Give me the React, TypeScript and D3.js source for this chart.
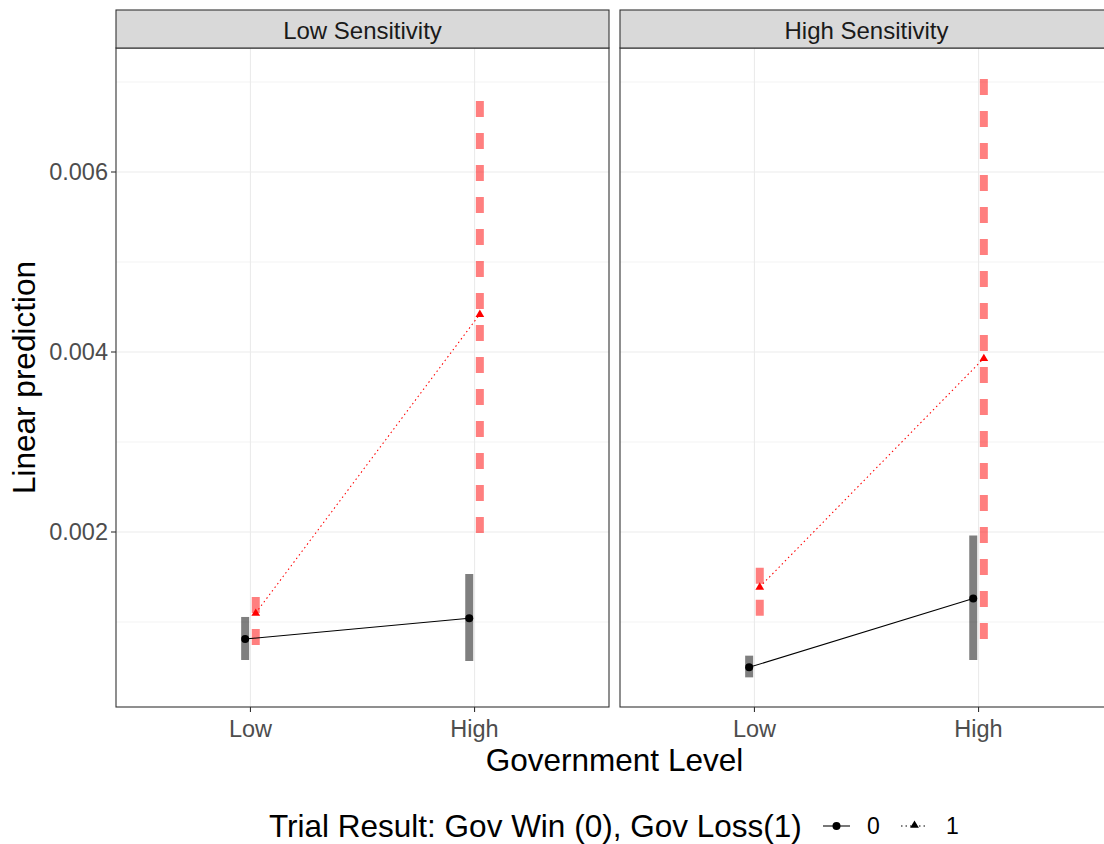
import React from "react";
import * as d3 from "d3";

const facets = ["Low Sensitivity", "High Sensitivity"];
const levels = ["Low", "High"];
const groups = ["0", "1"];
// values per facet: [group][level]
const estLow0 = [0.000811, 0.001041];
const loLow0 = [0.000578, 0.000567];
const hiLow0 = [0.001056, 0.001533];
const estLow1 = [0.0011, 0.00442];
const loLow1 = [0.000744, 0.00199];
const hiLow1 = [0.00128, 0.00682];
const estHigh0 = [0.000496, 0.00126];
const loHigh0 = [0.000385, 0.000578];
const hiHigh0 = [0.000626, 0.00196];
const estHigh1 = [0.00139, 0.00393];
const loHigh1 = [0.00107, 0.00081];
const hiHigh1 = [0.00161, 0.00706];
const yTicks = [0.002, 0.004, 0.006];
const yMinor = [0.001, 0.003, 0.005, 0.007];

const facetData = [
  { est: [estLow0, estLow1], lo: [loLow0, loLow1], hi: [hiLow0, hiLow1] },
  { est: [estHigh0, estHigh1], lo: [loHigh0, loHigh1], hi: [hiHigh0, hiHigh1] },
];

const FONT = "'Liberation Sans', Arial, sans-serif";

export default function App() {
  const W = 1104, H = 844;
  const panelTop = 48, panelBottom = 707;
  const panelW = 493;
  const panelLefts = [116, 620];
  const y = d3.scaleLinear().domain([0, 0.001]).range([712, 622]);
  const dodge = 5.3;
  const colors = ["#000000", "#FF0000"];
  const ciColors = ["rgba(0,0,0,0.5)", "rgba(255,0,0,0.5)"];

  const tri = (cx: number, cy: number, s: number) =>
    `M${cx},${cy - s}L${cx + s * 0.95},${cy + s * 0.6}L${cx - s * 0.95},${cy + s * 0.6}Z`;

  return (
    <svg width={W} height={H} style={{ position: "absolute", left: 0, top: 0, background: "#fff" }} fontFamily={FONT}>
      {facets.map((f, fi) => {
        const left = panelLefts[fi];
        // ggplot discrete expansion 0.6 each side
        const xs = d3.scaleLinear().domain([0.4, 2.6]).range([left, left + panelW]);
        const xpos = (l: string) => xs(levels.indexOf(l) + 1);
        const d = facetData[fi];
        return (
          <g key={f}>
            <defs>
              <clipPath id={`clip${fi}`}>
                <rect x={left} y={panelTop} width={panelW} height={panelBottom - panelTop} />
              </clipPath>
            </defs>
            <rect x={left} y={panelTop} width={panelW} height={panelBottom - panelTop} fill="#fff" />
            {yMinor.map((t) => (
              <line key={"m" + t} x1={left} x2={left + panelW} y1={y(t)} y2={y(t)} stroke="#EBEBEB" strokeWidth={0.6} />
            ))}
            {yTicks.map((t) => (
              <line key={"M" + t} x1={left} x2={left + panelW} y1={y(t)} y2={y(t)} stroke="#EBEBEB" strokeWidth={1.1} />
            ))}
            {levels.map((l) => (
              <line key={l} x1={xpos(l)} x2={xpos(l)} y1={panelTop} y2={panelBottom} stroke="#EBEBEB" strokeWidth={1.1} />
            ))}
            <g clipPath={`url(#clip${fi})`}>
              {groups.map((g, gi) => {
                const off = gi === 0 ? -dodge : dodge;
                return levels.map((l, li) => (
                  <line
                    key={g + l}
                    x1={xpos(l) + off}
                    x2={xpos(l) + off}
                    y1={y(d.lo[gi][li])}
                    y2={y(d.hi[gi][li])}
                    stroke={ciColors[gi]}
                    strokeWidth={8}
                    strokeDasharray={gi === 1 ? "16,16" : undefined}
                  />
                ));
              })}
              {groups.map((g, gi) => {
                const off = gi === 0 ? -dodge : dodge;
                const line = d3
                  .line<number>()
                  .x((_, i) => xpos(levels[i]) + off)
                  .y((v) => y(v));
                return (
                  <path
                    key={"l" + g}
                    d={line(d.est[gi]) || ""}
                    fill="none"
                    stroke={colors[gi]}
                    strokeWidth={1.07}
                    strokeDasharray={gi === 1 ? "1.5,3" : undefined}
                  />
                );
              })}
              {groups.map((g, gi) => {
                const off = gi === 0 ? -dodge : dodge;
                return levels.map((l, li) =>
                  gi === 0 ? (
                    <circle key={"p" + g + l} cx={xpos(l) + off} cy={y(d.est[gi][li])} r={4} fill="#000" />
                  ) : (
                    <path key={"p" + g + l} d={tri(xpos(l) + off, y(d.est[gi][li]), 4.6)} fill="#FF0000" />
                  )
                );
              })}
            </g>
            <rect x={left} y={panelTop} width={panelW} height={panelBottom - panelTop} fill="none" stroke="#333333" strokeWidth={1.1} />
            {/* strip */}
            <rect x={left} y={10} width={panelW} height={panelTop - 10} fill="#D9D9D9" stroke="#333333" strokeWidth={1.1} />
            <text x={left + panelW / 2} y={38.5} textAnchor="middle" fontSize={24} fill="#1A1A1A">
              {f}
            </text>
            {/* x axis */}
            {levels.map((l) => (
              <g key={"xt" + l}>
                <line x1={xpos(l)} x2={xpos(l)} y1={panelBottom} y2={panelBottom + 5} stroke="#333333" strokeWidth={1.1} />
                <text x={xpos(l)} y={736.5} textAnchor="middle" fontSize={23.5} fill="#4D4D4D">
                  {l}
                </text>
              </g>
            ))}
          </g>
        );
      })}
      {/* y axis */}
      {yTicks.map((t) => (
        <g key={"yt" + t}>
          <line x1={111} x2={116} y1={y(t)} y2={y(t)} stroke="#333333" strokeWidth={1.1} />
          <text x={108} y={y(t) + 8.4} textAnchor="end" fontSize={23.5} fill="#4D4D4D">
            {t.toFixed(3)}
          </text>
        </g>
      ))}
      <text
        transform={`translate(35,${(panelTop + panelBottom) / 2}) rotate(-90)`}
        textAnchor="middle"
        fontSize={31.5}
        fill="#000"
      >
        Linear prediction
      </text>
      <text x={614.5} y={771} textAnchor="middle" fontSize={31.5} fill="#000">
        Government Level
      </text>
      {/* legend */}
      <text x={269} y={837} fontSize={31.5} fill="#000">
        Trial Result: Gov Win (0), Gov Loss(1)
      </text>
      <line x1={823} x2={850} y1={826} y2={826} stroke="#000" strokeWidth={1.07} />
      <circle cx={836.5} cy={826} r={4} fill="#000" />
      <text x={867} y={834} fontSize={23} fill="#000">0</text>
      <line x1={901} x2={928} y1={826} y2={826} stroke="#000" strokeWidth={1.07} strokeDasharray="1.5,3" />
      <path d={tri(914.5, 825, 4.6)} fill="#000" />
      <text x={946} y={834} fontSize={23} fill="#000">1</text>
    </svg>
  );
}
